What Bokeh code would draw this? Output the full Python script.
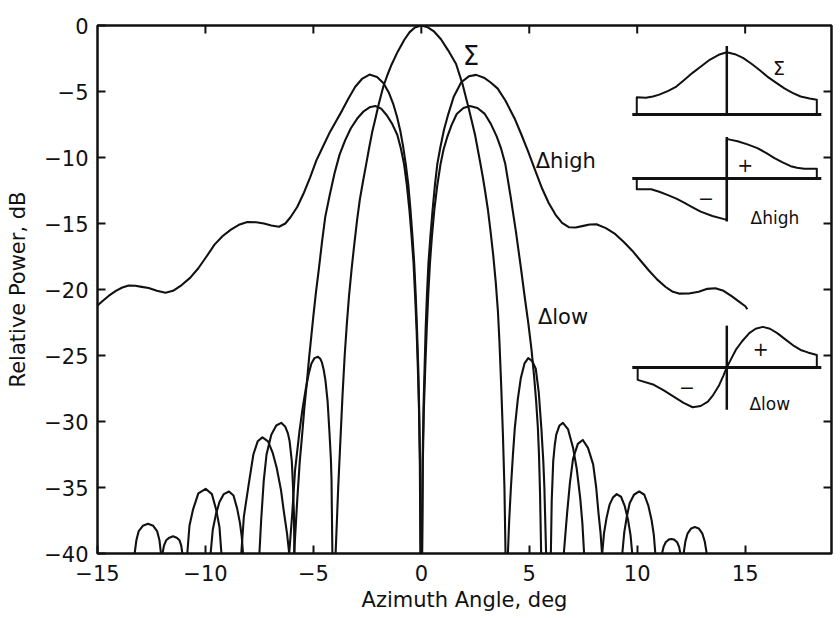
import numpy as np
from bokeh.plotting import figure
from bokeh.models import Range1d, FixedTicker
from bokeh.core.properties import value
from bokeh.embed import file_html
from bokeh.resources import INLINE

# ---------------- data ----------------
# Sum pattern (Sigma): main lobe and side lobes (clipped at -40 dB)
sigma_deg = [
    [-13.28, -13.2, -13.09, -12.9, -12.66, -12.42, -12.24, -12.13, -12.06],
    [-10.84, -10.74, -10.58, -10.33, -9.99, -9.7, -9.5, -9.35, -9.26],
    [-8.34, -8.22, -8.0, -7.78, -7.58, -7.36, -7.1, -6.88, -6.7, -6.5, -6.37, -6.22, -6.12],
    [-6.12, -6.05, -5.98, -5.85, -5.64, -5.5, -5.36, -5.22, -5.09, -4.95, -4.79, -4.68, -4.61,
     -4.52, -4.44, -4.34, -4.26, -4.19, -4.16, -4.12],
    [-3.97, -3.85, -3.75, -3.65, -3.55, -3.45, -3.35, -3.22, -3.1, -2.98, -2.85, -2.7, -2.56,
     -2.42, -2.27, -2.12, -1.98, -1.76, -1.57, -1.38, -1.1, -0.78, -0.55, -0.3, 0.0,
     0.3, 0.6, 0.91, 1.25, 1.61, 1.92, 2.2, 2.49, 2.73, 2.85, 2.95, 3.08, 3.2, 3.33, 3.45,
     3.55, 3.62, 3.7, 3.78, 3.85, 3.9],
    [4.01, 4.07, 4.15, 4.24, 4.33, 4.47, 4.61, 4.78, 4.95, 5.13, 5.3, 5.44, 5.56, 5.65, 5.7, 5.78],
    [6.6, 6.68, 6.75, 6.88, 7.03, 7.25, 7.48, 7.72, 7.96, 8.1, 8.21, 8.3, 8.37],
    [9.31, 9.4, 9.52, 9.65, 9.85, 10.09, 10.33, 10.52, 10.67, 10.77, 10.84],
    [12.15, 12.23, 12.33, 12.5, 12.67, 12.85, 13.02, 13.13, 13.22],
]
sigma_db = [
    [-40, -39.0, -38.3, -37.9, -37.75, -37.9, -38.3, -39.0, -40],
    [-40, -37.9, -36.7, -35.45, -35.1, -35.5, -36.7, -38.0, -40],
    [-40, -37.2, -34.8, -32.5, -31.5, -31.2, -31.5, -32.4, -33.5, -35.2, -36.8, -38.5, -40],
    [-40, -38.5, -37.0, -33.7, -30.7, -29.0, -27.6, -26.4, -25.6, -25.2, -25.1, -25.25, -25.5,
     -26.1, -26.9, -28.5, -30.7, -32.8, -34.4, -40],
    [-40, -35.0, -31.5, -28.0, -25.0, -22.6, -20.5, -18.3, -16.5, -14.8, -13.2, -11.8, -10.56,
     -9.3, -8.03, -7.0, -6.0, -4.62, -3.75, -2.97, -2.0, -1.06, -0.52, -0.15, 0.0,
     -0.14, -0.47, -1.04, -1.9, -2.92, -4.5, -6.3, -8.3, -10.4, -11.5, -12.5, -13.9, -15.5,
     -17.4, -19.5, -21.7, -24.0, -27.3, -31.0, -35.0, -40],
    [-40, -37.5, -35.0, -32.6, -30.5, -28.3, -26.7, -25.6, -25.2, -25.4, -26.0, -27.8, -30.5,
     -33.0, -35.0, -40],
    [-40, -38.4, -37.0, -34.7, -32.8, -31.7, -31.4, -32.0, -33.25, -35.0, -37.0, -38.4, -40],
    [-40, -38.4, -37.2, -36.2, -35.55, -35.3, -35.55, -36.4, -37.5, -38.6, -40],
    [-40, -39.1, -38.5, -38.1, -38.0, -38.1, -38.5, -39.1, -40],
]

# Low-sidelobe difference pattern (Delta low)
dlow_deg = [
    [-11.99, -11.92, -11.82, -11.67, -11.5, -11.33, -11.2, -11.12, -11.07],
    [-9.76, -9.66, -9.51, -9.35, -9.15, -8.91, -8.7, -8.53, -8.4, -8.32, -8.26],
    [-7.5, -7.42, -7.3, -7.17, -6.95, -6.72, -6.49, -6.3, -6.18, -6.1, -6.0, -5.95, -5.9, -5.88],
    [-5.89, -5.75, -5.63, -5.52, -5.42, -5.3, -5.2, -5.1, -5.0, -4.88, -4.75, -4.6, -4.45,
     -4.25, -4.02, -3.79, -3.53, -3.27, -2.97, -2.67, -2.4, -2.13, -1.86, -1.6, -1.35, -1.11,
     -0.95, -0.8, -0.67, -0.55, -0.45, -0.36, -0.29, -0.22, -0.16, -0.11, -0.07, -0.04],
    [0.04, 0.07, 0.12, 0.18, 0.25, 0.32, 0.4, 0.49, 0.6, 0.74, 0.89, 1.03, 1.19, 1.4, 1.64,
     1.95, 2.25, 2.6, 2.94, 3.22, 3.49, 3.7, 3.89, 4.13, 4.38, 4.6, 4.8, 4.96, 5.1, 5.22,
     5.32, 5.4, 5.45, 5.5, 5.55],
    [6.0, 6.04, 6.11, 6.18, 6.25, 6.4, 6.56, 6.8, 7.03, 7.2, 7.36, 7.46, 7.54],
    [8.38, 8.46, 8.58, 8.72, 8.88, 9.05, 9.25, 9.42, 9.57, 9.69, 9.77],
    [11.15, 11.22, 11.32, 11.45, 11.58, 11.72, 11.85, 11.94, 12.0],
]
dlow_db = [
    [-40, -39.4, -39.0, -38.8, -38.7, -38.8, -39.0, -39.4, -40],
    [-40, -38.2, -37.0, -36.1, -35.5, -35.3, -35.6, -36.6, -37.7, -38.7, -40],
    [-40, -37.5, -34.5, -32.5, -31.0, -30.3, -30.1, -30.4, -30.9, -31.5, -33.0, -34.7, -37.0, -40],
    [-40, -36.0, -33.0, -31.0, -29.0, -27.0, -25.2, -23.6, -22.0, -20.2, -18.5, -16.4, -14.5,
     -12.9, -11.2, -9.8, -8.7, -7.8, -7.05, -6.5, -6.2, -6.1, -6.3, -6.8, -7.45, -8.3,
     -9.3, -10.5, -12.1, -14.0, -16.0, -18.0, -20.4, -23.0, -26.0, -29.0, -33.0, -40],
    [-40, -33.0, -29.0, -26.0, -23.0, -20.4, -18.0, -16.0, -14.0, -12.1, -10.5, -9.4, -8.5,
     -7.55, -6.7, -6.25, -6.1, -6.25, -6.7, -7.45, -8.4, -9.35, -10.5, -12.9, -15.6, -18.2,
     -20.7, -22.6, -24.5, -26.5, -28.5, -30.5, -32.5, -35.5, -40],
    [-40, -36.0, -33.0, -31.8, -31.0, -30.3, -30.1, -30.6, -32.0, -33.6, -35.8, -37.7, -40],
    [-40, -38.5, -37.3, -36.3, -35.75, -35.5, -35.7, -36.4, -37.4, -38.6, -40],
    [-40, -39.5, -39.15, -38.95, -38.9, -38.95, -39.15, -39.5, -40],
]

# High-sidelobe difference pattern (Delta high)
dhigh_deg = [
    [-15.0, -14.75, -14.47, -14.15, -13.85, -13.55, -13.25, -12.95, -12.63, -12.25, -11.85,
     -11.5, -11.1, -10.7, -10.33, -9.95, -9.58, -9.2, -8.82, -8.45, -8.06, -7.65, -7.29, -6.95,
     -6.59, -6.3, -6.06, -5.75, -5.46, -5.15, -4.86, -4.55, -4.27, -3.95, -3.66, -3.35, -3.06,
     -2.75, -2.4, -2.05, -1.76, -1.5, -1.29, -1.12, -0.97, -0.84, -0.72, -0.6, -0.5, -0.41,
     -0.33, -0.26, -0.2, -0.14, -0.1, -0.06, -0.03],
    [0.03, 0.06, 0.1, 0.15, 0.2, 0.26, 0.33, 0.42, 0.52, 0.63, 0.74, 0.88, 1.05, 1.25, 1.5,
     1.85, 2.2, 2.54, 2.9, 3.2, 3.54, 3.9, 4.32, 4.62, 4.95, 5.27, 5.59, 5.9, 6.22, 6.52, 6.83,
     7.15, 7.45, 7.8, 8.14, 8.55, 8.99, 9.38, 9.77, 10.15, 10.54, 10.93, 11.32, 11.62, 11.93,
     12.4, 12.85, 13.25, 13.62, 14.0, 14.39, 14.7, 15.01, 15.1],
]
dhigh_db = [
    [-21.2, -20.85, -20.47, -20.1, -19.85, -19.7, -19.72, -19.8, -19.89, -20.1, -20.25, -20.1,
     -19.66, -19.1, -18.39, -17.5, -16.6, -15.95, -15.46, -15.1, -14.89, -14.9, -15.0, -15.15,
     -15.25, -15.0, -14.53, -13.75, -12.75, -11.5, -10.22, -9.15, -8.19, -7.25, -6.41, -5.45,
     -4.64, -4.05, -3.72, -3.9, -4.36, -5.1, -6.0, -6.95, -8.01, -9.2, -10.53, -12.1, -14.0,
     -16.0, -18.0, -20.4, -23.0, -26.0, -29.0, -33.0, -40],
    [-40, -33.0, -29.0, -26.0, -23.0, -20.4, -18.0, -16.0, -14.0, -12.1, -10.5, -9.24, -7.9,
     -6.71, -5.4, -4.3, -3.85, -3.74, -3.95, -4.3, -4.78, -5.7, -7.04, -8.2, -9.56, -10.95,
     -12.33, -13.45, -14.34, -14.95, -15.28, -15.3, -15.2, -15.08, -15.07, -15.35, -15.81,
     -16.4, -17.06, -17.8, -18.56, -19.25, -19.81, -20.15, -20.31, -20.3, -20.17, -19.95,
     -19.9, -20.1, -20.52, -20.9, -21.27, -21.5],
]

# Aperture illumination sketches (normalised position u, amplitude a)
sigma_ap_u = [-1.0, -1.0, -0.9, -0.82, -0.75, -0.65, -0.56, -0.47, -0.38, -0.28, -0.19, -0.09,
              0.0, 0.09, 0.18, 0.27, 0.36, 0.45, 0.55, 0.64, 0.73, 0.82, 0.92, 1.0, 1.0]
sigma_ap_a = [0.0, 0.28, 0.27, 0.29, 0.32, 0.38, 0.45, 0.56, 0.67, 0.78, 0.88, 0.96,
              1.0, 0.97, 0.91, 0.82, 0.72, 0.61, 0.51, 0.42, 0.35, 0.29, 0.26, 0.24, 0.0]
dhigh_ap_u = [-1.0, -1.0, -0.84, -0.75, -0.66, -0.56, -0.47, -0.38, -0.29, -0.16, -0.03, 0.0,
              0.0, 0.02, 0.12, 0.23, 0.34, 0.44, 0.53, 0.62, 0.71, 0.78, 0.86, 1.0, 1.0]
dhigh_ap_a = [0.0, -0.17, -0.17, -0.21, -0.26, -0.32, -0.39, -0.46, -0.53, -0.6, -0.65, -0.66,
              0.63, 0.63, 0.6, 0.55, 0.49, 0.41, 0.33, 0.26, 0.2, 0.175, 0.16, 0.16, 0.0]
dlow_ap_u = [-0.99, -0.99, -0.81, -0.7, -0.59, -0.48, -0.38, -0.29, -0.21, -0.15, -0.09, -0.04,
             0.0, 0.05, 0.1, 0.17, 0.25, 0.32, 0.4, 0.48, 0.56, 0.65, 0.75, 0.82, 0.9, 1.0, 1.0]
dlow_ap_a = [0.0, -0.2, -0.28, -0.37, -0.47, -0.57, -0.64, -0.62, -0.55, -0.44, -0.3, -0.14,
             0.0, 0.14, 0.28, 0.42, 0.55, 0.62, 0.65, 0.62, 0.55, 0.45, 0.34, 0.28, 0.24, 0.2, 0.0]

x_ticks = [-15, -10, -5, 0, 5, 10, 15]
y_ticks = [-40, -35, -30, -25, -20, -15, -10, -5, 0]
top_ticks = [-10, -5, 0, 5, 10, 15]
right_ticks = [-35, -30, -25, -20, -15, -10, -5]

# ---------------- layout / style ----------------
FONT = "DejaVu Sans"
INK = "#111111"
X0, X1, Y0, Y1 = -15, 19, -40, 0

p = figure(width=836, height=617, x_range=Range1d(X0, X1), y_range=Range1d(Y0, Y1),
           output_backend="svg", toolbar_location=None,
           min_border_left=97, min_border_right=5, min_border_top=25, min_border_bottom=64)
p.xgrid.visible = False
p.ygrid.visible = False
p.background_fill_color = "white"
p.border_fill_color = "white"
p.outline_line_color = INK
p.outline_line_width = 2.5


def minus(t):
    return str(t).replace("-", "\u2212")


def style_axis(ax, standoff):
    ax.major_tick_in = 8
    ax.major_tick_out = 0
    ax.major_tick_line_width = 2
    ax.major_tick_line_color = INK
    ax.minor_tick_line_color = None
    ax.axis_line_color = None
    ax.major_label_text_font = FONT
    ax.major_label_text_font_size = "21px"
    ax.major_label_text_color = INK
    ax.major_label_standoff = standoff
    ax.axis_label_text_font = FONT
    ax.axis_label_text_font_size = "21px"
    ax.axis_label_text_font_style = "normal"
    ax.axis_label_text_color = INK


xa = p.xaxis[0]
xa.ticker = FixedTicker(ticks=x_ticks)
xa.major_label_overrides = {t: minus(t) for t in x_ticks}
xa.axis_label = "Azimuth Angle, deg"
style_axis(xa, 11)
xa.axis_label_standoff = 4

ya = p.yaxis[0]
ya.ticker = FixedTicker(ticks=y_ticks)
ya.major_label_overrides = {t: minus(t) for t in y_ticks}
ya.axis_label = "Relative Power, dB"
style_axis(ya, 9)
ya.axis_label_standoff = 11

# inward tick marks on the top and right frame edges
TICK_DX = 0.37   # ~8 px
TICK_DY = 0.61   # ~8 px
p.segment(x0=top_ticks, y0=[Y1] * len(top_ticks), x1=top_ticks, y1=[Y1 - TICK_DY] * len(top_ticks),
          line_color=INK, line_width=2)
p.segment(x0=[X1] * len(right_ticks), y0=right_ticks, x1=[X1 - TICK_DX] * len(right_ticks),
          y1=right_ticks, line_color=INK, line_width=2)

# patterns
LW = 2.1
p.multi_line(xs=sigma_deg, ys=sigma_db, line_color=INK, line_width=LW, line_join="round")
p.multi_line(xs=dlow_deg, ys=dlow_db, line_color=INK, line_width=LW, line_join="round")
p.multi_line(xs=dhigh_deg, ys=dhigh_db, line_color=INK, line_width=LW, line_join="round")

# curve labels
p.text(x=[2.3], y=[-2.3], text=["\u03a3"], text_font=value(FONT), text_font_size=value("26px"),
       text_align="center", text_baseline="middle", text_color=INK)
p.text(x=[5.3, 5.4], y=[-10.3, -22.1], text=["\u0394high", "\u0394low"], text_font=value(FONT),
       text_font_size=value("21px"), text_align="left", text_baseline="alphabetic", text_color=INK)

# aperture inset sketches
INSET_X0 = 14.15
INSET_SX = 4.17
INSET_SY = 4.72
insets = [
    (sigma_ap_u, sigma_ap_a, -6.75, (0.0, 1.1)),
    (dhigh_ap_u, dhigh_ap_a, -11.6, (-0.69, 0.67)),
    (dlow_ap_u, dlow_ap_a, -25.9, (-0.68, 0.67)),
]
for u, a, y0, (v0, v1) in insets:
    xs = INSET_X0 + INSET_SX * np.array(u, dtype=float)
    ys = y0 + INSET_SY * np.array(a, dtype=float)
    p.line(xs, ys, line_color=INK, line_width=2, line_join="round")
    p.line([INSET_X0 - 1.05 * INSET_SX, INSET_X0 + 1.05 * INSET_SX], [y0, y0],
           line_color=INK, line_width=3)
    p.line([INSET_X0, INSET_X0], [y0 + v0 * INSET_SY, y0 + v1 * INSET_SY],
           line_color=INK, line_width=2.5)

p.text(x=[16.57], y=[-3.25], text=["\u03a3"], text_font=value(FONT), text_font_size=value("19px"),
       text_align="center", text_baseline="middle", text_color=INK)
p.text(x=[15.25, 15.2], y=[-14.6, -28.7], text=["\u0394high", "\u0394low"], text_font=value(FONT),
       text_font_size=value("17px"), text_align="left", text_baseline="alphabetic", text_color=INK)
p.text(x=[15.0, 13.18, 15.72, 12.3], y=[-10.6, -13.1, -24.5, -27.4],
       text=["+", "\u2212", "+", "\u2212"], text_font=value(FONT), text_font_size=value("19px"),
       text_align="center", text_baseline="middle", text_color=INK)

open("out.html", "w").write(file_html(p, INLINE))
